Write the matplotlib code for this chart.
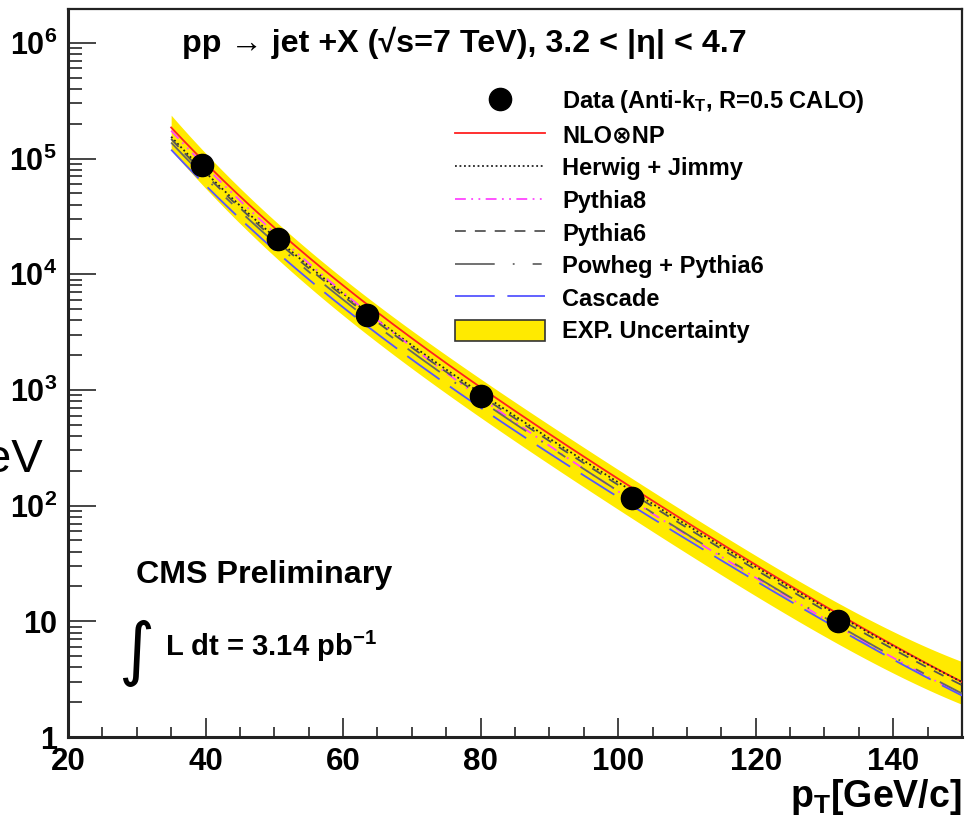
import matplotlib
matplotlib.use('Agg')
import matplotlib.pyplot as plt
from matplotlib.lines import Line2D
from matplotlib.patches import Patch
from matplotlib.ticker import FixedLocator, MultipleLocator, LogLocator, NullFormatter
import numpy as np

plt.rcParams['font.family'] = ['Liberation Sans', 'DejaVu Sans']
plt.rcParams['font.weight'] = 'bold'
plt.rcParams['mathtext.fontset'] = 'custom'
plt.rcParams['mathtext.rm'] = 'Liberation Sans:bold'
plt.rcParams['mathtext.it'] = 'Liberation Sans:bold'
plt.rcParams['mathtext.bf'] = 'Liberation Sans:bold'
plt.rcParams['mathtext.sf'] = 'Liberation Sans:bold'

# measured points
data_pt = [39.5, 50.5, 63.5, 80.0, 102.0, 132.0]
data_xs = [8.8e4, 2.0e4, 4.4e3, 880, 116, 10.0]

# theory curves on a common pT grid
pt = [35, 40, 50, 60, 70, 80, 90, 100, 110, 120, 130, 140, 150]
nlo_np = [1.82e5, 9.33e4, 2.57e4, 7943, 2754, 1047, 417, 170, 72.4, 31.6, 13.2, 6.17, 3.02]
herwig = [1.51e5, 7.76e4, 2.14e4, 6761, 2399, 933, 380, 158, 69.2, 30.2, 12.9, 6.03, 3.02]
pythia8 = [1.70e5, 8.71e4, 2.34e4, 6918, 2291, 851, 331, 132, 56.2, 24.5, 10.2, 4.79, 2.34]
pythia6 = [1.45e5, 7.41e4, 2.04e4, 6457, 2291, 891, 363, 151, 64.6, 28.8, 12.0, 5.75, 2.82]
powheg = [1.35e5, 6.92e4, 1.91e4, 6026, 2089, 813, 324, 132, 57.5, 25.1, 10.5, 4.90, 2.40]
cascade = [1.17e5, 6.03e4, 1.62e4, 5129, 1820, 708, 282, 117, 51.3, 22.9, 9.77, 4.68, 2.29]

# experimental uncertainty band
band_hi = [2.29e5, 1.17e5, 2.95e4, 8913, 3236, 1259, 501, 204, 87.1, 37.2, 16.2, 8.32, 4.47]
band_lo = [1.15e5, 5.75e4, 1.45e4, 4365, 1479, 589, 229, 93.3, 38.9, 16.6, 7.24, 3.63, 1.91]

W, H = 971, 822
fig = plt.figure(figsize=(W / 100, H / 100), dpi=100)
ax = fig.add_axes([68 / W, 1 - 737 / H, (962 - 68) / W, (737 - 9) / H])


def px(x, y):
    return x / W, 1 - y / H


# smooth polynomial through the log values so the curves have no kinks
fine = np.linspace(35, 150, 400)


def smooth(vals):
    c = np.polyfit(pt, np.log10(vals), 4)
    return 10 ** np.polyval(c, fine)


yellow = '#ffea00'
ax.fill_between(fine, smooth(band_lo), smooth(band_hi), color=yellow, lw=0, zorder=1)

lw = 1.3
styles = [
    (nlo_np, '#ff2020', '-'),
    (herwig, '#222222', (0, (1, 1.5))),
    (pythia8, '#ff44ff', (0, (6, 3, 1, 3, 1, 3))),
    (pythia6, '#555555', (0, (6, 5))),
    (powheg, '#666666', (0, (22, 10, 1, 10, 5, 10))),
    (cascade, '#5555ff', (0, (22, 7))),
]
for vals, col, ls in styles:
    ax.plot(fine, smooth(vals), color=col, lw=lw, ls=ls, zorder=3)

ax.plot(data_pt, data_xs, 'o', color='black', ms=16, zorder=5)

ax.set_yscale('log')
ax.set_xlim(20, 150)
ax.set_ylim(1, 1.96e6)

# ROOT style frame and ticks
for side in ['left', 'bottom']:
    ax.spines[side].set_linewidth(2.2)
for side in ['top', 'right']:
    ax.spines[side].set_linewidth(1.6)
for s in ax.spines.values():
    s.set_color('#222222')

ax.xaxis.set_major_locator(MultipleLocator(20))
ax.xaxis.set_minor_locator(MultipleLocator(5))
ax.yaxis.set_minor_locator(LogLocator(base=10, subs=np.arange(2, 10), numticks=20))
ax.yaxis.set_minor_formatter(NullFormatter())

ax.tick_params(axis='y', which='major', direction='in', length=20, width=1.4,
               color='#444444', labelsize=22, pad=8)
ax.tick_params(axis='y', which='minor', direction='in', length=10, width=1.4, color='#444444')
ax.tick_params(axis='x', which='major', direction='in', length=14, width=1.4,
               color='#444444', labelsize=22.5, pad=7)
ax.tick_params(axis='x', which='minor', direction='in', length=7, width=1.4, color='#444444')

ylabels = {1: '1', 10: '10', 100: r'$10^{2}$', 1000: r'$10^{3}$', 1e4: r'$10^{4}$',
           1e5: r'$10^{5}$', 1e6: r'$10^{6}$'}
ax.yaxis.set_major_locator(FixedLocator(list(ylabels.keys())))
ax.set_yticklabels(list(ylabels.values()))
for t in ax.get_xticklabels() + ax.get_yticklabels():
    t.set_fontweight('bold')

# title and annotations
fig.text(*px(182, 43), r'pp → jet +X (√s=7 TeV), 3.2 < |η| < 4.7',
         fontsize=23.2, fontweight='bold', va='center', ha='left')
fig.text(*px(136, 575), 'CMS Preliminary', fontsize=23.2, fontweight='bold',
         va='center', ha='left')
fig.text(*px(118, 672), '∫', fontsize=50, fontweight='normal', va='baseline', ha='left',
         family=['DejaVu Sans'])
fig.text(*px(165, 656), r'L dt = 3.14 pb$^{\mathbf{-1}}$', fontsize=21,
         fontweight='bold', va='baseline', ha='left')

fig.text(*px(962, 807), r'p$_{\mathrm{T}}$[GeV/c]', fontsize=27, fontweight='bold',
         va='baseline', ha='right')
fig.text(*px(43, 472), 'eV', fontsize=34, fontweight='normal', va='baseline', ha='right')

handles = [Line2D([], [], marker='o', color='black', ms=16, ls='none')]
handles += [Line2D([], [], color=col, lw=lw, ls=ls) for _, col, ls in styles]
handles += [Patch(facecolor=yellow, edgecolor='#333333', lw=1.2)]
labels = [r'Data (Anti-k$_{\mathrm{T}}$, R=0.5 CALO)', 'NLO⊗NP', 'Herwig + Jimmy',
          'Pythia8', 'Pythia6', 'Powheg + Pythia6', 'Cascade', 'EXP. Uncertainty']
leg = fig.legend(handles, labels, loc='upper left', bbox_to_anchor=px(455, 88),
                 frameon=False, handlelength=3.8, handletextpad=0.75,
                 handleheight=1.0, labelspacing=0.38, borderpad=0, borderaxespad=0,
                 numpoints=1, prop={'weight': 'bold', 'size': 17})

fig.savefig('out.png', dpi=100)
